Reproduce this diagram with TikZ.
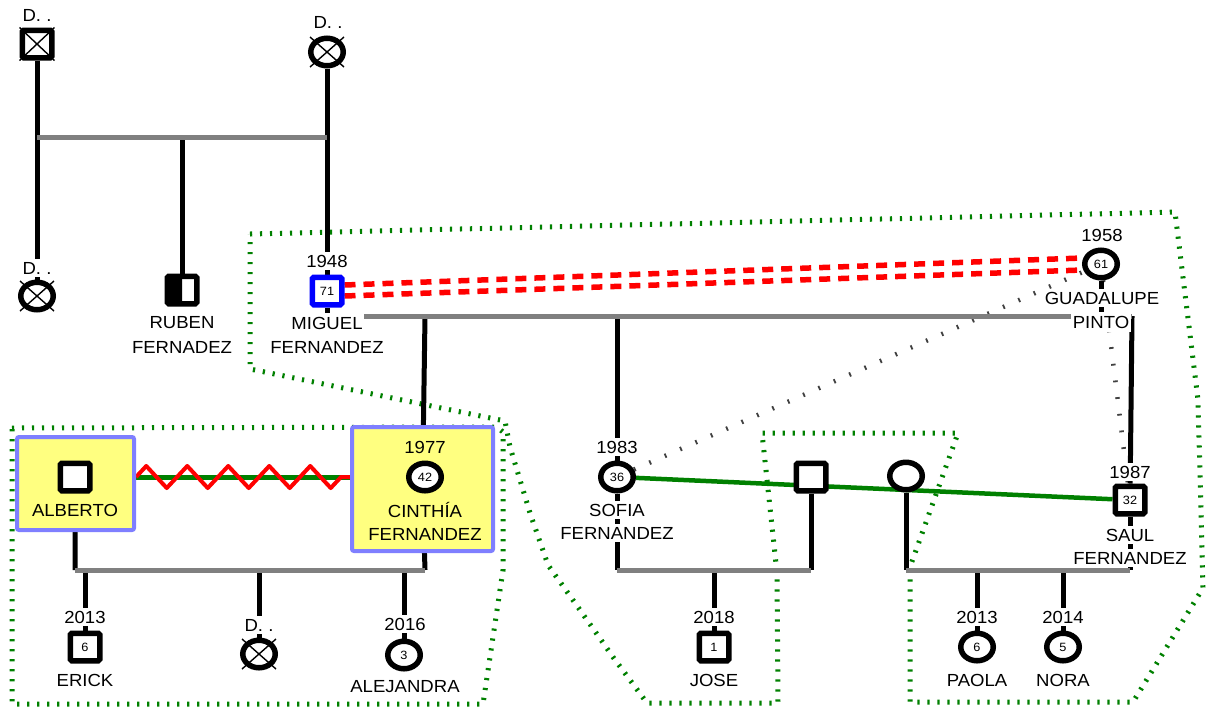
\documentclass[tikz,border=0pt]{standalone}
\usepackage{fontspec}
\setmainfont{Liberation Sans}[FakeStretch=1.06]
\usetikzlibrary{shapes.geometric,backgrounds,decorations.pathmorphing}
\definecolor{gbar}{HTML}{808080}
\definecolor{grn}{HTML}{008000}
\definecolor{dgray}{HTML}{404040}
\definecolor{boxb}{HTML}{7F7FFF}
\definecolor{boxy}{HTML}{FFFF80}
\newcommand\lblfont{\fontsize{17.5}{20}\selectfont}
\newcommand\numfont{\fontsize{12}{14}\selectfont}
\tikzset{
  lbl/.style={fill=white, inner xsep=1.5pt, inner ysep=2.5pt, font=\lblfont},
  blbl/.style={inner sep=1pt, font=\lblfont},
  sym/.style={draw=black, line width=5.5pt, fill=white, inner sep=0pt, font=\numfont},
  sq/.style={sym, rectangle, rounded corners=1.5pt, minimum width=29.5pt, minimum height=27.5pt},
  ci/.style={sym, ellipse, minimum width=32.5pt, minimum height=27.5pt},
  kin/.style={line width=5pt, black},
  bar/.style={line width=5pt, gbar},
  xl/.style={line width=1.4pt, black},
  hh/.style={line width=5pt, draw=grn, dash pattern=on 2.2pt off 7.8pt},
  sepl/.style={line width=4.5pt, draw=dgray, dash pattern=on 1.8pt off 15pt},
  ybox/.style={draw=boxb, fill=boxy, line width=4pt, rounded corners=2pt, inner sep=0pt},
  rdd/.style={red, line width=5.5pt, dash pattern=on 11pt off 8pt},
}
\begin{document}
\begin{tikzpicture}[x=1pt,y=-1pt]
\path[use as bounding box] (0,0) rectangle (1206,713);

% ---------- boxes ----------
\node[ybox, minimum width=117pt, minimum height=93pt] (albbox) at (75.5,483.5) {};
\node[ybox, minimum width=141pt, minimum height=124pt] (cinbox) at (422.5,489) {};

% ---------- generation 1 ----------
\node[sq] (gf) at (37,44) {};
\node[ci] (gm) at (327,52) {};
\node[lbl] (gfl) at (37,15) {D. .};
\node[lbl] (gml) at (328,22) {D. .};

% ---------- generation 2 ----------
\node[ci] (s1) at (37,296) {};
\node[lbl] (s1l) at (37,268) {D. .};
\node[sq, path picture={\fill[black] (path picture bounding box.south west) rectangle (path picture bounding box.north);}] (rub) at (182,290) {};
\node[lbl] (rub1) at (182,323) {RUBEN};
\node[lbl] (rub2) at (182,347) {FERNADEZ};
\node[sq, draw=blue] (mig) at (327,291) {71};
\node[lbl] (migy) at (327,261) {1948};
\node[lbl, inner ysep=3.5pt] (mig1) at (327,323) {MIGUEL};
\node[lbl] (mig2) at (327,347) {FERNANDEZ};
\node[ci] (gua) at (1101,264) {61};
\node[lbl] (guay) at (1102,235) {1958};
\node[lbl] (gua1) at (1102,298) {GUADALUPE};
\node[lbl, inner ysep=3.5pt] (gua2) at (1101,322) {PINTO};

% ---------- generation 3 ----------
\node[sq] (alb) at (75,477) {};
\node[blbl] (alb1) at (75,510) {ALBERTO};
\node[ci] (cin) at (425,477) {42};
\node[blbl] (ciny) at (425,447) {1977};
\node[blbl] (cin1) at (425,510) {CINTHÍA};
\node[blbl] (cin2) at (425,534) {FERNANDEZ};
\node[ci] (sof) at (617,477) {36};
\node[lbl] (sofy) at (617,447) {1983};
\node[lbl] (sof1) at (617,510) {SOFIA};
\node[lbl] (sof2) at (617,533) {FERNANDEZ};
\node[sq] (psq) at (811,477) {};
\node[ci] (pci) at (906,476) {};
\node[sq] (sau) at (1130,500) {32};
\node[lbl] (sauy) at (1130,472) {1987};
\node[lbl] (sau1) at (1130,535) {SAUL};
\node[lbl] (sau2) at (1130,558) {FERNANDEZ};

% ---------- generation 4 ----------
\node[sq] (eri) at (85,647) {6};
\node[lbl] (eriy) at (85,617) {2013};
\node[lbl] (eri1) at (85,680) {ERICK};
\node[ci] (dch) at (259,654) {};
\node[lbl] (dchl) at (259,625) {D. .};
\node[ci] (ale) at (404,655) {3};
\node[lbl] (aley) at (405,624) {2016};
\node[lbl] (ale1) at (405,687) {ALEJANDRA};
\node[sq] (jos) at (714,647) {1};
\node[lbl] (josy) at (714,617) {2018};
\node[lbl] (jos1) at (714,680) {JOSE};
\node[ci] (pao) at (977,647) {6};
\node[lbl] (paoy) at (977,617) {2013};
\node[lbl] (pao1) at (977,680) {PAOLA};
\node[ci] (nor) at (1063,647) {5};
\node[lbl] (nory) at (1063,617) {2014};
\node[lbl] (nor1) at (1063,680) {NORA};

% deceased crosses
\draw[xl] (gf.north west) -- (gf.south east) (gf.north east) -- (gf.south west);
\foreach \n in {gm,s1,dch}{
  \draw[xl] (\n.center) ++(-17,-15) -- ++(34,30);
  \draw[xl] (\n.center) ++(17,-15) -- ++(-34,30);
}

% bar coordinates
\coordinate (t1) at (37,137);
\coordinate (t2) at (327,137);
\coordinate (m1) at (327,316);
\coordinate (m2) at (1132,316);
\coordinate (c1) at (75,570);
\coordinate (c2) at (425,570);
\coordinate (f1) at (617,570);
\coordinate (f2) at (811,570);
\coordinate (h1) at (906,570);
\coordinate (h2) at (1130,570);

\begin{pgfonlayer}{background}
% household outlines
\draw[hh] (250,234) -- (1175,212) -- (1198,400) -- (1203,588) -- (1133,702) -- (910,702) -- (910,567) -- (958,433) -- (762,433) -- (777,573) -- (778,703) -- (647,703) -- (613,657) -- (580,610) -- (548,565) -- (530,513) -- (510,447) -- (505,421) -- (250,369) -- cycle;
\draw[hh] (12,428) -- (497,427) -- (503,432) -- (503,570) -- (483,704) -- (12,704) -- cycle;

% relationship lines
\draw[rdd] ([yshift=6pt]mig.east) -- ([yshift=6pt]gua.west);
\draw[rdd] ([yshift=-5pt]mig.east) -- ([yshift=-6pt]gua.west);
\draw[sepl] (sof) -- (gua);
\draw[sepl] (gua) -- (sau);
\draw[grn, line width=4.5pt] (sof) -- (sau);
\draw[grn, line width=5pt] (albbox.east|-alb) -- (cinbox.west|-alb);
\draw[red, line width=4pt, line join=round, decorate, decoration={zigzag, segment length=41pt, amplitude=11pt}] (albbox.east|-alb) -- (cinbox.west|-alb);

% generation 1 -> 2
\draw[kin] (gf) -- (s1);
\draw[kin] (gm) -- (mig);
\draw[kin] (182,137) -- (rub);
\draw[bar] (t1) -- (t2);

% generation 2 -> 3
\draw[kin] (mig) -- (m1);
\draw[kin] (gua) -- (gua|-m1);
\draw[kin] (cin|-m1) -- (cinbox);
\draw[kin] (sof|-m1) -- (sof);
\draw[kin] (m2) -- (sau);
\draw[bar] (m1) -- (m2);

% generation 3 -> 4
\draw[kin] (albbox) -- (c1);
\draw[kin] (cinbox) -- (c2);
\draw[kin] (eri|-c1) -- (eri);
\draw[kin] (dch|-c1) -- (dch);
\draw[kin] (ale|-c1) -- (ale);
\draw[bar] (c1) -- (c2);

\draw[kin] (sof) -- (f1);
\draw[kin] (psq) -- (f2);
\draw[kin] (jos|-f1) -- (jos);
\draw[bar] (f1) -- (f2);

\draw[kin] (pci) -- (h1);
\draw[kin] (sau) -- (h2);
\draw[kin] (pao|-h1) -- (pao);
\draw[kin] (nor|-h1) -- (nor);
\draw[bar] (h1) -- (h2);
\end{pgfonlayer}
\end{tikzpicture}
\end{document}
